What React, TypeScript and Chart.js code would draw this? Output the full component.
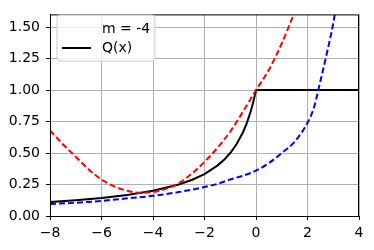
import React, { useEffect, useRef } from "react";
import { Chart, registerables } from "chart.js";

Chart.register(...registerables);

const xRed = [-8, -7.5, -7, -6.5, -6, -5.5, -5, -4.5, -4, -3.5, -3, -2.5, -2, -1.5, -1, -0.5, 0, 0.5, 1, 1.5, 2];
const redVals = [0.68, 0.57, 0.47, 0.37, 0.29, 0.235, 0.2, 0.185, 0.19, 0.215, 0.26, 0.335, 0.43, 0.54, 0.67, 0.83, 1.0, 1.16, 1.37, 1.62, 1.9];

const xBlue = [-8, -7, -6, -5, -4, -3, -2, -1.5, -1, -0.5, 0, 0.5, 1, 1.5, 2, 2.25, 2.5, 2.75, 3, 3.25];
const blueVals = [0.095, 0.105, 0.12, 0.14, 0.16, 0.19, 0.23, 0.255, 0.29, 0.32, 0.36, 0.42, 0.5, 0.59, 0.74, 0.86, 1.07, 1.29, 1.53, 1.85];

const xQ = [-8, -7, -6, -5, -4, -3, -2.5, -2, -1.5, -1.25, -1, -0.75, -0.5, -0.35, -0.2, -0.1, 0, 4];
const qVals = [0.111, 0.125, 0.143, 0.167, 0.2, 0.25, 0.286, 0.333, 0.4, 0.444, 0.5, 0.571, 0.667, 0.741, 0.833, 0.909, 1.0, 1.0];

const legendLabels = ["m = -4", "Q(x)"];
const FONT = "14px 'DejaVu Sans'";

const frame = {
  id: "frame",
  afterDraw(chart: any) {
    const { ctx, chartArea: a } = chart;
    ctx.save();
    ctx.strokeStyle = "#000";
    ctx.lineWidth = 1;
    ctx.strokeRect(a.left + 0.5, a.top + 0.5, a.right - a.left - 1, a.bottom - a.top);
    // legend
    const bx = 57, by = 15, bw = 98, bh = 46, r = 3;
    ctx.beginPath();
    ctx.moveTo(bx + r, by);
    ctx.arcTo(bx + bw, by, bx + bw, by + bh, r);
    ctx.arcTo(bx + bw, by + bh, bx, by + bh, r);
    ctx.arcTo(bx, by + bh, bx, by, r);
    ctx.arcTo(bx, by, bx + bw, by, r);
    ctx.closePath();
    ctx.fillStyle = "rgba(255,255,255,0.8)";
    ctx.fill();
    ctx.strokeStyle = "#cccccc";
    ctx.stroke();
    ctx.font = FONT;
    ctx.fillStyle = "#000";
    ctx.textBaseline = "middle";
    ctx.textAlign = "left";
    ctx.fillText(legendLabels[0], 102, 29);
    ctx.fillText(legendLabels[1], 102, 48);
    ctx.beginPath();
    ctx.strokeStyle = "#000";
    ctx.lineWidth = 2;
    ctx.moveTo(62, 48);
    ctx.lineTo(91, 48);
    ctx.stroke();
    ctx.restore();
  },
};

export default function App() {
  const ref = useRef<HTMLCanvasElement>(null);
  useEffect(() => {
    const pts = (xs: number[], ys: number[]) => xs.map((x, i) => ({ x, y: ys[i] }));
    const chart = new Chart(ref.current!, {
      type: "line",
      data: {
        datasets: [
          {
            label: "red",
            data: pts(xRed, redVals),
            borderColor: "#ff0000",
            borderDash: [6, 3],
            borderWidth: 2,
            pointRadius: 0,
            cubicInterpolationMode: "monotone",
          },
          {
            label: "blue",
            data: pts(xBlue, blueVals),
            borderColor: "#0000ff",
            borderDash: [6, 3],
            borderWidth: 2,
            pointRadius: 0,
            cubicInterpolationMode: "monotone",
          },
          {
            label: "Q(x)",
            data: pts(xQ, qVals),
            borderColor: "#000000",
            borderWidth: 2,
            pointRadius: 0,
            tension: 0,
          },
        ],
      },
      options: {
        animation: false,
        responsive: false,
        devicePixelRatio: 1,
        layout: { padding: { left: 0, right: 15, top: 10, bottom: 0 } },
        plugins: { legend: { display: false }, tooltip: { enabled: false } },
        scales: {
          x: {
            type: "linear",
            min: -8,
            max: 4,
            afterFit: (s: any) => { s.height = 34; },
            ticks: {
              stepSize: 2,
              color: "#000",
              font: { family: "DejaVu Sans", size: 14 },
              padding: 5,
              maxRotation: 0,
              callback: (v: any) => (v < 0 ? "\u2212" + Math.abs(v) : String(v)),
            },
            grid: { color: "#b0b0b0", tickColor: "#000", tickLength: 4, lineWidth: 1 },
            border: { color: "#000", width: 1 },
          },
          y: {
            type: "linear",
            min: 0,
            max: 1.6,
            afterFit: (s: any) => { s.width = 50; },
            ticks: {
              stepSize: 0.25,
              includeBounds: false,
              color: "#000",
              font: { family: "DejaVu Sans", size: 14 },
              padding: 6,
              callback: (v: any) => Number(v).toFixed(2),
            },
            grid: { color: "#b0b0b0", tickColor: "#000", tickLength: 4, lineWidth: 1 },
            border: { color: "#000", width: 1 },
          },
        },
      },
      plugins: [frame],
    });
    return () => chart.destroy();
  }, []);
  return (
    <div style={{ position: "absolute", left: 0, top: 0, width: 374, height: 250, background: "#fff" }}>
      <canvas ref={ref} width={374} height={250} />
    </div>
  );
}
